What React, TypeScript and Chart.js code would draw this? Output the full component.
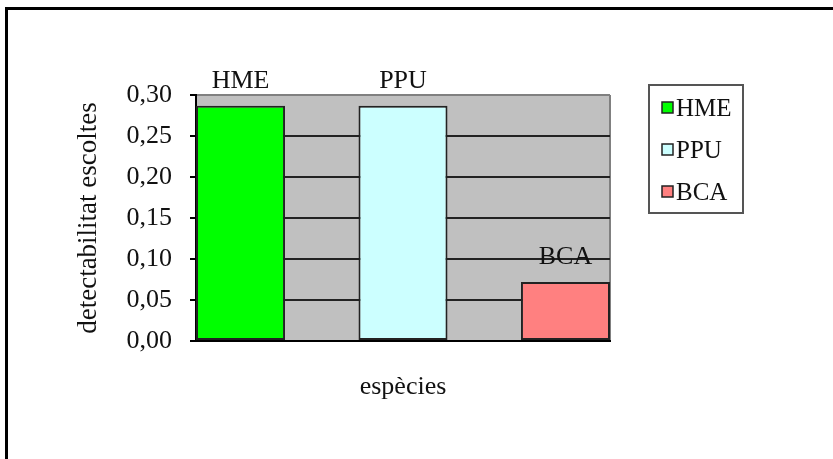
import React, { useEffect, useRef } from 'react';
import { Chart, registerables } from 'chart.js';

Chart.register(...registerables);

// ---- data ----
const species = ['HME', 'PPU', 'BCA'];
const detectability = [0.287, 0.287, 0.072];
const barColors = ['#00FF00', '#CCFFFF', '#FF8080'];
const yTickValues = [0, 0.05, 0.1, 0.15, 0.2, 0.25, 0.3];
const yTitle = 'detectabilitat escoltes';
const xTitle = 'espècies';

const FONT = "'Liberation Serif', 'Times New Roman', serif";

const decoPlugin = {
  id: 'deco',
  beforeDraw(chart: any) {
    const { ctx, chartArea: a, width, height } = chart;
    ctx.save();
    ctx.fillStyle = '#ffffff';
    ctx.fillRect(0, 0, width, height);
    // outer frame (top and left)
    ctx.fillStyle = '#000000';
    ctx.fillRect(5, 7, width - 5, 3);
    ctx.fillRect(5, 7, 3, height - 7);
    // plot area
    ctx.fillStyle = '#c0c0c0';
    ctx.fillRect(a.left, a.top, a.right - a.left, a.bottom - a.top);
    ctx.strokeStyle = '#808080';
    ctx.lineWidth = 2;
    ctx.beginPath();
    ctx.moveTo(a.right, a.top);
    ctx.lineTo(a.right, a.bottom);
    ctx.stroke();
    ctx.restore();
  },
  afterDatasetsDraw(chart: any) {
    const { ctx } = chart;
    const meta = chart.getDatasetMeta(0);
    ctx.save();
    ctx.fillStyle = '#111';
    ctx.font = `26px ${FONT}`;
    ctx.textAlign = 'center';
    ctx.textBaseline = 'alphabetic';
    meta.data.forEach((el: any, i: number) => {
      ctx.fillText(species[i], el.x, el.y - 18);
    });
    ctx.restore();
  },
  afterDraw(chart: any) {
    const { ctx, chartArea: a } = chart;
    const left = a.right + 39;
    const top = a.top - 10;
    const w = 94;
    const rowGap = 42;
    const h = 128;
    ctx.save();
    ctx.fillStyle = '#ffffff';
    ctx.fillRect(left, top, w, h);
    ctx.strokeStyle = '#555';
    ctx.lineWidth = 2;
    ctx.strokeRect(left, top, w, h);
    ctx.font = `25px ${FONT}`;
    ctx.textAlign = 'left';
    ctx.textBaseline = 'alphabetic';
    species.forEach((s, i) => {
      const cy = top + 23 + i * rowGap;
      ctx.fillStyle = barColors[i];
      ctx.fillRect(left + 13, cy - 6, 11, 11);
      ctx.strokeStyle = '#222';
      ctx.lineWidth = 1.5;
      ctx.strokeRect(left + 13, cy - 6, 11, 11);
      ctx.fillStyle = '#111';
      ctx.fillText(s, left + 27, cy + 8);
    });
    ctx.restore();
  },
};

export default function App() {
  const ref = useRef<HTMLCanvasElement | null>(null);

  useEffect(() => {
    if (!ref.current) return;
    const chart = new Chart(ref.current, {
      type: 'bar',
      data: {
        datasets: [
          {
            data: species.map((_, i) => ({ x: i, y: detectability[i] })),
            backgroundColor: barColors,
            borderColor: '#222',
            borderWidth: 2,
            borderSkipped: false,
            categoryPercentage: 1,
            barPercentage: 0.548,
          } as any,
        ],
      },
      options: {
        responsive: false,
        animation: false,
        events: [],
        layout: { padding: { left: 0, top: 95, right: 223, bottom: 0 } },
        plugins: {
          legend: { display: false },
          tooltip: { enabled: false },
        },
        scales: {
          x: {
            type: 'linear',
            offset: false,
            min: -0.274,
            max: 2.274,
            afterBuildTicks: (s: any) => {
              s.ticks = species.map((_, i) => ({ value: i }));
            },
            afterFit: (s: any) => {
              s.height = 118;
            },
            ticks: { display: false },
            grid: { display: false, drawTicks: false, offset: false },
            border: { display: true, color: '#000', width: 2 },
            title: {
              display: true,
              text: xTitle,
              color: '#111',
              font: { family: FONT, size: 26 },
              padding: { top: 0, bottom: 56 },
            },
          },
          y: {
            min: 0,
            max: 0.3,
            afterBuildTicks: (s: any) => {
              s.ticks = yTickValues.map((v) => ({ value: v }));
            },
            afterFit: (s: any) => {
              s.width = 196;
            },
            ticks: {
              color: '#111',
              font: { family: FONT, size: 26 },
              padding: 18,
              callback: (v: any) => Number(v).toFixed(2).replace('.', ','),
            },
            grid: {
              color: (c: any) => (c.tick && c.tick.value >= 0.299 ? '#808080' : '#222'),
              lineWidth: 2,
              tickLength: 6,
              tickColor: '#000',
              tickWidth: 2,
            },
            border: { display: true, color: '#000', width: 2 },
            title: {
              display: true,
              text: yTitle,
              color: '#111',
              font: { family: FONT, size: 27 },
              padding: { top: 73, bottom: 0 },
            },
          },
        },
      } as any,
      plugins: [decoPlugin],
    });
    return () => chart.destroy();
  }, []);

  return (
    <div style={{ position: 'fixed', left: 0, top: 0, width: 833, height: 459 }}>
      <canvas ref={ref} width={833} height={459} />
    </div>
  );
}
